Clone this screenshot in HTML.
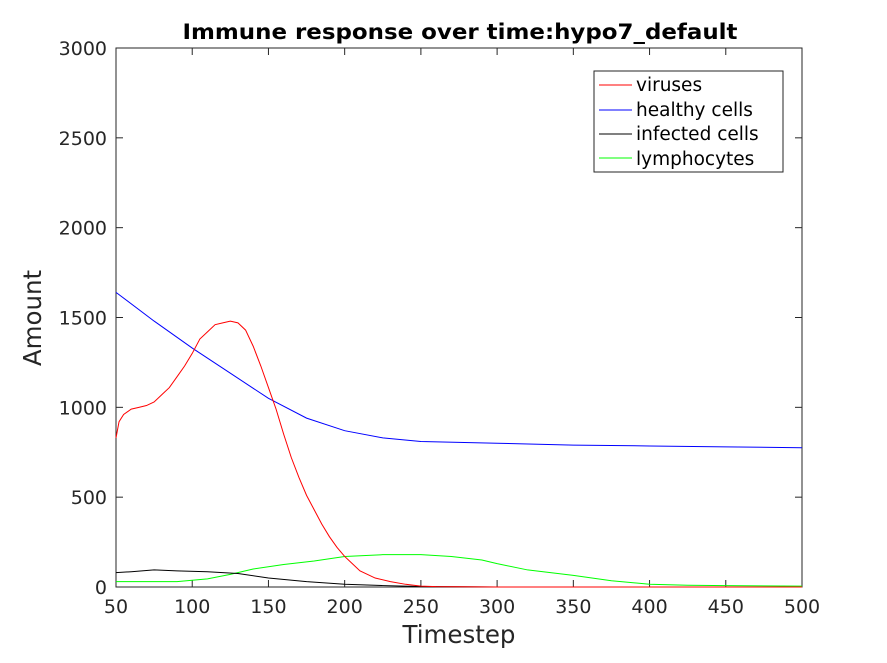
<!DOCTYPE html>
<html><head><meta charset="utf-8"><style>
body{margin:0;background:#fff;}
svg text{font-family:"DejaVu Sans","Liberation Sans",sans-serif;fill:#262626;}
</style></head><body>
<svg id="chart" width="887" height="658" xmlns="http://www.w3.org/2000/svg">
<rect width="887" height="658" fill="#fff"/>
<text x="460" y="39" text-anchor="middle" font-size="21" font-weight="bold" style="fill:#000" textLength="555" lengthAdjust="spacingAndGlyphs">Immune response over time:hypo7_default</text>
<rect x="116" y="48" width="686" height="539" fill="none" stroke="#262626" stroke-width="1"/>
<g id="xticks"></g>
<g id="yticks"></g>
<g id="series"></g>
<text x="459" y="643" text-anchor="middle" font-size="24.5">Timestep</text>
<text transform="translate(41,318) rotate(-90)" text-anchor="middle" font-size="24.5">Amount</text>
<g>
<rect x="594" y="71" width="189" height="101" fill="#fff" stroke="#262626"/>
<line x1="599" y1="85" x2="632" y2="85" stroke="#f00"/><text x="636" y="91" font-size="18.5" style="fill:#000">viruses</text>
<line x1="599" y1="110" x2="632" y2="110" stroke="#00f"/><text x="636" y="116" font-size="18.5" style="fill:#000">healthy cells</text>
<line x1="599" y1="134" x2="632" y2="134" stroke="#000"/><text x="636" y="140" font-size="18.5" style="fill:#000">infected cells</text>
<line x1="599" y1="158" x2="632" y2="158" stroke="#0f0"/><text x="636" y="165" font-size="18.5" style="fill:#000">lymphocytes</text>
</g>
</svg>
<script>
const xTicks=[50,100,150,200,250,300,350,400,450,500];
const yTicks=[0,500,1000,1500,2000,2500,3000];
const virusT=[50,52,55,60,65,70,75,80,85,90,95,100,105,110,115,120,125,130,135,140,145,150,155,160,165,170,175,180,185,190,195,200,205,210,215,220,230,240,250,260,300,500];
const virusV=[830,920,960,990,1000,1010,1030,1070,1110,1170,1230,1300,1380,1420,1460,1470,1480,1470,1430,1340,1230,1110,990,850,720,610,510,430,350,280,220,170,130,90,70,50,30,15,5,2,0,0];
const healthyT=[50,75,100,125,150,175,200,225,250,300,350,400,450,500];
const healthyV=[1640,1480,1330,1190,1050,940,870,830,810,800,790,785,780,775];
const infectedT=[50,60,75,90,110,130,150,175,200,225,250,300,500];
const infectedV=[80,85,95,90,85,75,50,30,15,8,3,0,0];
const lymphT=[50,90,110,125,140,160,180,200,225,250,270,290,300,320,350,375,400,425,450,500];
const lymphV=[30,30,45,70,100,125,145,170,180,180,170,150,130,95,65,35,15,10,8,5];
const NS="http://www.w3.org/2000/svg";
const X=v=>116+(v-50)/450*686, Y=v=>587-v/3000*539;
function mk(t,a,p){const e=document.createElementNS(NS,t);for(const k in a)e.setAttribute(k,a[k]);p.appendChild(e);return e;}
const xg=document.getElementById('xticks'),yg=document.getElementById('yticks'),sg=document.getElementById('series');
xTicks.forEach(v=>{
  const l=mk('line',{x1:X(v),x2:X(v),y1:587,y2:580,stroke:'#262626'},xg);
  
  
  const t=mk('text',{x:X(v),y:613,'text-anchor':'middle','font-size':19},xg);t.textContent=v;
  
  
  mk('line',{x1:X(v),x2:X(v),y1:48,y2:55,stroke:'#262626'},xg);
});
yTicks.forEach(v=>{
  const l=mk('line',{x1:116,x2:123,y1:Y(v),y2:Y(v),stroke:'#262626'},yg);
  
  
  mk('line',{x1:802,x2:795,y1:Y(v),y2:Y(v),stroke:'#262626'},yg);
  const t=mk('text',{x:107,y:Y(v)+7,'text-anchor':'end','font-size':19},yg);t.textContent=v;
  
  
});
function line(ts,vs,c,name){
  const p=mk('polyline',{points:ts.map((t,i)=>X(t)+','+Y(vs[i])).join(' '),fill:'none',stroke:c,'stroke-width':1},sg);
  
  
}
line(lymphT,lymphV,'#0f0','lymphocytes-line');
line(infectedT,infectedV,'#000','infected-cells-line');
line(healthyT,healthyV,'#00f','healthy-cells-line');
line(virusT,virusV,'#f00','viruses-line');
</script>
</body></html>
